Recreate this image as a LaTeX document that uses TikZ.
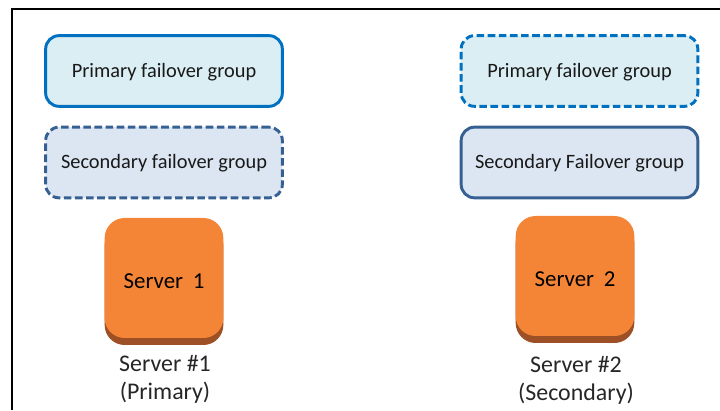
\documentclass[tikz,border=0pt]{standalone}
\usepackage{fontspec}
\setmainfont{Carlito}
\usetikzlibrary{positioning}
\definecolor{primaryline}{HTML}{0070C0}
\definecolor{primaryfill}{HTML}{DAEEF3}
\definecolor{secondline}{HTML}{366092}
\definecolor{secondfill}{HTML}{DCE6F2}
\definecolor{serverfront}{HTML}{F58536}
\definecolor{serverside}{HTML}{9D5025}
\tikzset{
  groupbox/.style={draw,line width=2.5pt,rounded corners=0.4cm,minimum width=7.1cm,minimum height=2.12cm,
    inner sep=0pt,text height=14pt,text depth=3pt,font=\fontsize{17.4}{20}\selectfont,text=black!90},
  primarybox/.style={groupbox,draw=primaryline,fill=primaryfill},
  secondbox/.style={groupbox,draw=secondline,fill=secondfill},
  standby/.style={dash pattern=on 6.5pt off 3pt},
  serverbox/.style={rounded corners=0.6cm,minimum width=3.56cm,minimum height=3.6cm,inner sep=0pt,
    text height=19.4pt,text depth=1pt,font=\fontsize{19.5}{22}\selectfont},
  caption/.style={font=\fontsize{20.4}{24}\selectfont,text=black!85,align=center,inner sep=0pt},
}
\begin{document}
\begin{tikzpicture}
% ==========================================
\useasboundingbox (0,0) rectangle (21.6,12.3);
\coordinate (framebl) at (0.37,0);
\coordinate (frametl) at (0.37,12.04);
\coordinate (frametr) at (21.6,12.04);
\draw [black,line width=1.6pt] (framebl) -- (frametl) -- (frametr);
%
\node[primarybox] (primaryA) at (4.92,10.17) {Primary failover group};
\node[secondbox,standby] (secondA) at (4.92,7.425) {Secondary failover group};
\node[primarybox,standby] (primaryB) at (17.385,10.17) {Primary failover group};
\node[secondbox] (secondB) at (17.385,7.425) {Secondary Failover group};
%
\node[serverbox,fill=serverside] (sideA) at (4.92,3.75) {};
\node[serverbox,fill=serverfront] (serverA) at (4.92,3.96) {Server\hspace{.42em}1};
\node[serverbox,fill=serverside] (sideB) at (17.25,3.81) {};
\node[serverbox,fill=serverfront] (serverB) at (17.25,4.02) {Server\hspace{.42em}2};
%
\node[caption] (labelA) at (4.95,0.92) {Server \#1\\(Primary)};
\node[caption] (labelB) at (17.28,0.88) {Server \#2\\(Secondary)};
% =============================================
\end{tikzpicture}
\end{document}
